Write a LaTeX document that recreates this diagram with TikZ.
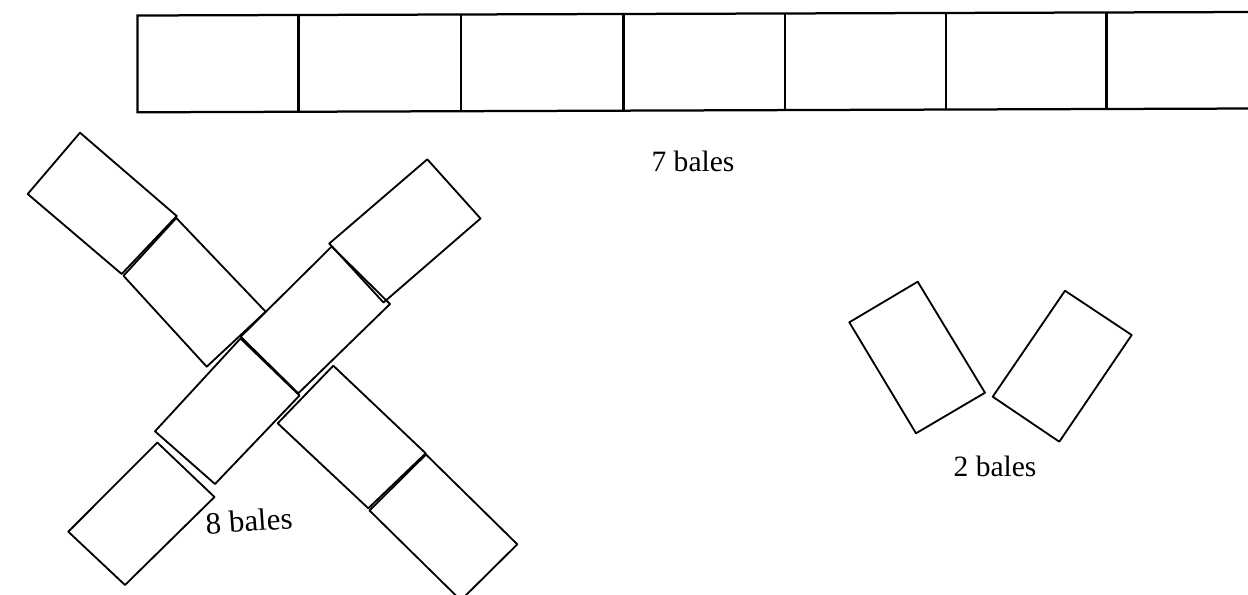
\documentclass[tikz,border=0pt]{standalone}
\usepackage{fontspec}
\setmainfont{Liberation Serif}
\begin{document}
\begin{tikzpicture}[x=0.025cm,y=-0.025cm,
  bale/.style={draw=black, line width=1.3pt, line join=round},
  row/.style={draw=black, line width=1.6pt},
  lbl/.style={font=\fontsize{21}{25}\selectfont, inner sep=0pt}]
\useasboundingbox (0,0) rectangle (1248,594);
\clip (0,0) rectangle (1248,594);
% row of 7 bales
\draw[row] (1252,12) -- (137.5,15.5) -- (137.5,112.3) -- (1252,108.5);
\foreach \x in {298.5,461,623.5,785,946,1106.5}{
  \draw[row] (\x,{15.5-3.5*(\x-137.5)/1112.5}) -- (\x,{112.3-3.8*(\x-137.5)/1112.5});
}
% cross of 8 bales
\draw[bale] (80,132.7) -- (176.7,216) -- (121.7,274) -- (27.7,194) -- cycle;
\draw[bale] (176.3,218) -- (265.7,311.7) -- (206.7,366.7) -- (123.5,275.8) -- cycle;
\draw[bale] (427.3,159.3) -- (480.5,218.5) -- (383.5,302.5) -- (329.3,243.5) -- cycle;
\draw[bale] (331.7,246.5) -- (390,304) -- (298.3,393.3) -- (240.7,336.7) -- cycle;
\draw[bale] (240.5,338.5) -- (299.5,395.5) -- (215,484) -- (155,431.3) -- cycle;
\draw[bale] (157.3,442.5) -- (214.5,497) -- (125,585) -- (68.3,531.7) -- cycle;
\draw[bale] (333.3,365.7) -- (425.7,453.3) -- (368.3,508.3) -- (277.7,423.3) -- cycle;
\draw[bale] (426,454.5) -- (517.3,544.3) -- (460.8,600.3) -- (369.5,510.5) -- cycle;
% 2 bales
\draw[bale] (917.7,281.7) -- (985,392.7) -- (916,433.3) -- (849.3,322.3) -- cycle;
\draw[bale] (1065,290.7) -- (1131.7,335) -- (1059.3,441.7) -- (992.7,396.7) -- cycle;
% labels
\node[lbl] (t7) at (693,161) {7 bales};
\node[lbl] (t2) at (995,466) {2 bales};
\node[lbl, font=\fontsize{22}{26}\selectfont, rotate=4] (t8) at (249,521) {8 bales};
\end{tikzpicture}
\end{document}
